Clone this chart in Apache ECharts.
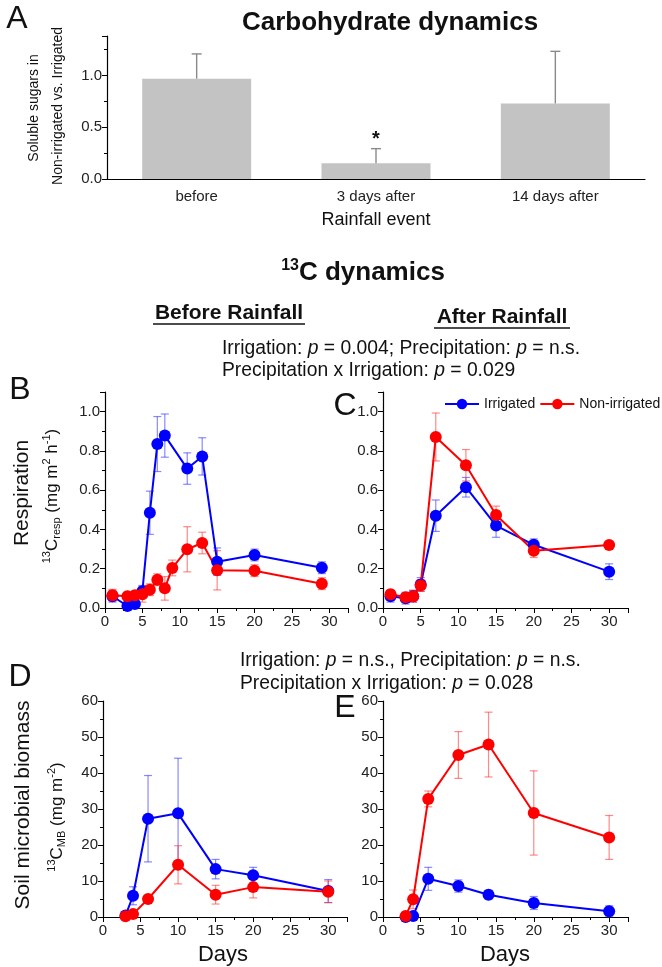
<!DOCTYPE html>
<html>
<head>
<meta charset="utf-8">
<script src="https://cdn.jsdelivr.net/npm/echarts@6/dist/echarts.min.js"></script>
<style>
  html, body { margin: 0; padding: 0; background: #fff; }
  #main { width: 662px; height: 967px; }
</style>
</head>
<body>
<div id="main"></div>
<script>
// ---- panel A : soluble sugars ratio
var sugarCats = ['before', '3 days after', '14 days after'];
var sugarMean = [0.968, 0.152, 0.729];
var sugarUpper = [1.207, 0.293, 1.232];
var sugarSig = ['', '*', ''];

// ---- panel B : respiration before rainfall
var respB_irrDays = [1, 3, 4, 5, 6, 7, 8, 11, 13, 15, 20, 29];
var respB_irr = [0.06, 0.01, 0.02, 0.085, 0.485, 0.835, 0.878, 0.71, 0.772, 0.236, 0.27, 0.205];
var respB_irrErr = [0.03, 0.02, 0.02, 0.03, 0.11, 0.14, 0.11, 0.08, 0.095, 0.07, 0.03, 0.03];
var respB_nonDays = [1, 3, 4, 5, 6, 7, 8, 9, 11, 13, 15, 20, 29];
var respB_non = [0.065, 0.06, 0.065, 0.07, 0.093, 0.144, 0.1, 0.204, 0.299, 0.331, 0.192, 0.19, 0.124];
var respB_nonErr = [0.03, 0.02, 0.02, 0.04, 0.03, 0.03, 0.06, 0.04, 0.115, 0.055, 0.1, 0.03, 0.03];

// ---- panel C : respiration after rainfall
var respC_days = [1, 3, 4, 5, 7, 11, 15, 20, 30];
var respC_irr = [0.06, 0.05, 0.06, 0.12, 0.47, 0.615, 0.42, 0.322, 0.185];
var respC_irrErr = [0.03, 0.03, 0.03, 0.035, 0.08, 0.05, 0.06, 0.03, 0.04];
var respC_non = [0.07, 0.055, 0.06, 0.115, 0.871, 0.727, 0.474, 0.292, 0.321];
var respC_nonErr = [0.02, 0.02, 0.03, 0.03, 0.122, 0.08, 0.045, 0.035, 0.01];

// ---- panel D : microbial biomass before rainfall
var mbD_days = [3, 4, 6, 10, 15, 20, 30];
var mbD_irr = [0.4, 5.9, 27.3, 28.8, 13.3, 11.6, 7.2];
var mbD_irrErr = [0.3, 2.5, 12, 15.3, 2.7, 2.2, 3.2];
var mbD_non = [0.2, 0.8, 5.0, 14.5, 6.2, 8.3, 7.0];
var mbD_nonErr = [0.2, 0.5, 0.8, 5.3, 2.6, 3.0, 3.0];

// ---- panel E : microbial biomass after rainfall
var mbE_days = [3, 4, 6, 10, 14, 20, 30];
var mbE_irr = [0.0, 0.3, 10.6, 8.6, 6.2, 3.9, 1.6];
var mbE_irrErr = [0, 0.5, 3.2, 1.7, 1.2, 1.8, 1.5];
var mbE_non = [0.3, 4.9, 32.8, 45.0, 47.9, 28.9, 22.1];
var mbE_nonErr = [0.2, 2.6, 2.2, 6.5, 9.0, 11.7, 6.1];

var FONT = '"Liberation Sans", Arial, sans-serif';
var BLUE = '#0000ff', RED = '#ff0000';
var BLUE_ERR = 'rgba(40,40,255,0.55)', RED_ERR = 'rgba(255,40,40,0.55)';

function pairs(xs, ys) { return xs.map(function (x, i) { return [x, ys[i]]; }); }
function triples(xs, ys, es) { return xs.map(function (x, i) { return [x, ys[i], es[i]]; }); }

var chart = echarts.init(document.getElementById('main'));

function valueX(grid, max) {
  return {
    type: 'value', gridIndex: grid, min: 0, max: max, interval: 5,
    axisLine: { lineStyle: { color: '#000', width: 1.2 } },
    axisTick: { length: 5, lineStyle: { color: '#000' } },
    minorTick: { show: true, splitNumber: 2, length: 3, lineStyle: { color: '#000' } },
    splitLine: { show: false },
    axisLabel: { color: '#222', fontSize: 15, fontFamily: FONT, margin: 6, showMaxLabel: false }
  };
}
function valueY(grid, max, step, digits) {
  return {
    type: 'value', gridIndex: grid, min: 0, max: max, interval: step,
    axisLine: { show: true, lineStyle: { color: '#000', width: 1.2 } },
    axisTick: { show: true, length: 5, lineStyle: { color: '#000' } },
    minorTick: { show: true, splitNumber: 2, length: 3, lineStyle: { color: '#000' } },
    splitLine: { show: false },
    axisLabel: {
      color: '#222', fontSize: 15, fontFamily: FONT, margin: 5, showMaxLabel: max % step === 0,
      formatter: function (v) { return v.toFixed(digits); }
    }
  };
}

function errItem(color) {
  return function (params, api) {
    var x = api.value(0), y = api.value(1), e = api.value(2);
    var lo = api.coord([x, y - e]), hi = api.coord([x, y + e]);
    var w = 4, st = { stroke: color, lineWidth: 1.2 };
    return {
      type: 'group', children: [
        { type: 'line', shape: { x1: lo[0], y1: lo[1], x2: hi[0], y2: hi[1] }, style: st },
        { type: 'line', shape: { x1: lo[0] - w, y1: lo[1], x2: lo[0] + w, y2: lo[1] }, style: st },
        { type: 'line', shape: { x1: hi[0] - w, y1: hi[1], x2: hi[0] + w, y2: hi[1] }, style: st }
      ]
    };
  };
}

function lineSeries(name, grid, color, xs, ys) {
  return {
    name: name, type: 'line', xAxisIndex: grid, yAxisIndex: grid,
    data: pairs(xs, ys), symbol: 'circle', symbolSize: 12,
    lineStyle: { color: color, width: 2 }, itemStyle: { color: color },
    z: 3
  };
}
function errSeries(grid, color, xs, ys, es) {
  return {
    type: 'custom', name: 'err', xAxisIndex: grid, yAxisIndex: grid,
    data: triples(xs, ys, es), renderItem: errItem(color),
    encode: { x: 0, y: 1 }, z: 2, silent: true
  };
}

function txt(x, y, text, size, extra) {
  extra = extra || {};
  var style = {
    text: text, fontSize: size, fontFamily: FONT, fontWeight: extra.weight || 'normal',
    fill: '#111', align: extra.align || 'center', verticalAlign: 'middle'
  };
  if (extra.rich) style.rich = extra.rich;
  return { type: 'text', x: x, y: y, rotation: extra.rotation || 0, silent: true, style: style };
}
function richSet(size, weight) {
  var s = Math.round(size * 0.62);
  return {
    n: { fontSize: size, fontFamily: FONT, fontWeight: weight, fill: '#111', lineHeight: size + 4 },
    i: { fontSize: size, fontFamily: FONT, fontWeight: weight, fontStyle: 'italic', fill: '#111', lineHeight: size + 4 },
    sup: { fontSize: s, fontFamily: FONT, fontWeight: weight, fill: '#111', verticalAlign: 'top', lineHeight: s },
    sub: { fontSize: s, fontFamily: FONT, fontWeight: weight, fill: '#111', verticalAlign: 'bottom', lineHeight: s }
  };
}

var option = {
  animation: false,
  backgroundColor: '#fff',
  grid: [
    { left: 107, top: 36, width: 538, height: 143 },
    { left: 105, top: 392, width: 243, height: 216 },
    { left: 383, top: 392, width: 245, height: 216 },
    { left: 103, top: 701, width: 244, height: 216 },
    { left: 383, top: 701, width: 245, height: 216 }
  ],
  xAxis: [
    {
      type: 'category', gridIndex: 0, data: sugarCats,
      axisLine: { lineStyle: { color: '#000', width: 1.2 } },
      axisTick: { length: 5, lineStyle: { color: '#000' } },
      axisLabel: { color: '#222', fontSize: 15, fontFamily: FONT, margin: 10 }
    },
    valueX(1, 32.5),
    valueX(2, 32.5),
    valueX(3, 32.5),
    valueX(4, 32.5),
    {
      type: 'category', gridIndex: 0, data: sugarCats,
      axisLine: { show: false },
      axisTick: { alignWithLabel: true, length: 5, lineStyle: { color: '#000' } },
      axisLabel: { show: false }
    }
  ],
  yAxis: [
    valueY(0, 1.38, 0.5, 1),
    valueY(1, 1.1, 0.2, 1),
    valueY(2, 1.1, 0.2, 1),
    valueY(3, 60, 10, 0),
    valueY(4, 60, 10, 0)
  ],
  legend: {
    data: ['Irrigated', 'Non-irrigated'], orient: 'horizontal',
    left: 444, top: 397, width: 240, padding: 0, itemWidth: 34, itemHeight: 13, itemGap: 4,
    textStyle: { fontSize: 14, fontFamily: FONT, color: '#111' }
  },
  series: [
    {
      type: 'bar', xAxisIndex: 0, yAxisIndex: 0, data: sugarMean,
      barWidth: 109, itemStyle: { color: '#c3c3c3' }, silent: true
    },
    {
      type: 'custom', xAxisIndex: 0, yAxisIndex: 0, silent: true, z: 4,
      data: sugarMean.map(function (m, i) { return [i, m, sugarUpper[i]]; }),
      encode: { x: 0, y: 1 },
      renderItem: function (params, api) {
        var i = params.dataIndex;
        var base = api.coord([api.value(0), api.value(1)]);
        var top = api.coord([api.value(0), api.value(2)]);
        var st = { stroke: '#8a8a8a', lineWidth: 1.4 };
        var kids = [
          { type: 'line', shape: { x1: base[0], y1: base[1], x2: top[0], y2: top[1] }, style: st },
          { type: 'line', shape: { x1: top[0] - 5, y1: top[1], x2: top[0] + 5, y2: top[1] }, style: st }
        ];
        if (sugarSig[i]) {
          kids.push({
            type: 'text', x: top[0], y: top[1] - 9,
            style: { text: sugarSig[i], fontSize: 20, fontFamily: FONT, fontWeight: 'bold', fill: '#111', align: 'center', verticalAlign: 'middle' }
          });
        }
        return { type: 'group', children: kids };
      }
    },
    errSeries(1, BLUE_ERR, respB_irrDays, respB_irr, respB_irrErr),
    errSeries(1, RED_ERR, respB_nonDays, respB_non, respB_nonErr),
    lineSeries('Irrigated', 1, BLUE, respB_irrDays, respB_irr),
    lineSeries('Non-irrigated', 1, RED, respB_nonDays, respB_non),

    errSeries(2, BLUE_ERR, respC_days, respC_irr, respC_irrErr),
    errSeries(2, RED_ERR, respC_days, respC_non, respC_nonErr),
    lineSeries('Irrigated', 2, BLUE, respC_days, respC_irr),
    lineSeries('Non-irrigated', 2, RED, respC_days, respC_non),

    errSeries(3, BLUE_ERR, mbD_days, mbD_irr, mbD_irrErr),
    errSeries(3, RED_ERR, mbD_days, mbD_non, mbD_nonErr),
    lineSeries('Irrigated', 3, BLUE, mbD_days, mbD_irr),
    lineSeries('Non-irrigated', 3, RED, mbD_days, mbD_non),

    errSeries(4, BLUE_ERR, mbE_days, mbE_irr, mbE_irrErr),
    errSeries(4, RED_ERR, mbE_days, mbE_non, mbE_nonErr),
    lineSeries('Irrigated', 4, BLUE, mbE_days, mbE_irr),
    lineSeries('Non-irrigated', 4, RED, mbE_days, mbE_non)
  ],
  graphic: [
    // panel letters
    txt(17, 19, 'A', 32),
    txt(20, 390, 'B', 32),
    txt(345, 406, 'C', 32),
    txt(20, 677, 'D', 32),
    txt(345, 708, 'E', 32),
    // panel A titles
    txt(390, 23, 'Carbohydrate dynamics', 26, { weight: 'bold' }),
    txt(34, 108, 'Soluble sugars in', 14, { rotation: Math.PI / 2 }),
    txt(58, 106, 'Non-irrigated vs. Irrigated', 14, { rotation: Math.PI / 2 }),
    txt(376, 220, 'Rainfall event', 18),
    // 13C section
    txt(363, 273, '{sup|13}{n|C dynamics}', 26, { weight: 'bold', rich: richSet(26, 'bold') }),
    txt(229, 313, 'Before Rainfall', 21, { weight: 'bold' }),
    { type: 'line', silent: true, shape: { x1: 153, y1: 324, x2: 305, y2: 324 }, style: { stroke: '#111', lineWidth: 1.6 } },
    txt(502, 317, 'After Rainfall', 21, { weight: 'bold' }),
    { type: 'line', silent: true, shape: { x1: 434, y1: 328, x2: 570, y2: 328 }, style: { stroke: '#111', lineWidth: 1.6 } },
    txt(222, 349, '{n|Irrigation: }{i|p}{n| = 0.004; Precipitation: }{i|p}{n| = n.s.}', 19.3, { align: 'left', rich: richSet(19.3, 'normal') }),
    txt(222, 371, '{n|Precipitation x Irrigation: }{i|p}{n| = 0.029}', 19.3, { align: 'left', rich: richSet(19.3, 'normal') }),
    txt(240, 661, '{n|Irrigation: }{i|p}{n| = n.s., Precipitation: }{i|p}{n| = n.s.}', 19.3, { align: 'left', rich: richSet(19.3, 'normal') }),
    txt(240, 684, '{n|Precipitation x Irrigation: }{i|p}{n| = 0.028}', 19.3, { align: 'left', rich: richSet(19.3, 'normal') }),
    // y axis names
    txt(22, 493, 'Respiration', 21, { rotation: Math.PI / 2 }),
    txt(52, 496, '{sup|13}{n|C}{sub|resp}{n| (mg m}{sup|2}{n| h}{sup|-1}{n|)}', 17, { rotation: Math.PI / 2, rich: richSet(17, 'normal') }),
    txt(23, 805, 'Soil microbial biomass', 21, { rotation: Math.PI / 2 }),
    txt(57, 817, '{sup|13}{n|C}{sub|MB}{n| (mg m}{sup|-2}{n|)}', 17, { rotation: Math.PI / 2, rich: richSet(17, 'normal') }),
    // x axis names
    txt(223, 955, 'Days', 22),
    txt(505, 955, 'Days', 22)
  ]
};

chart.setOption(option);
</script>
</body>
</html>
